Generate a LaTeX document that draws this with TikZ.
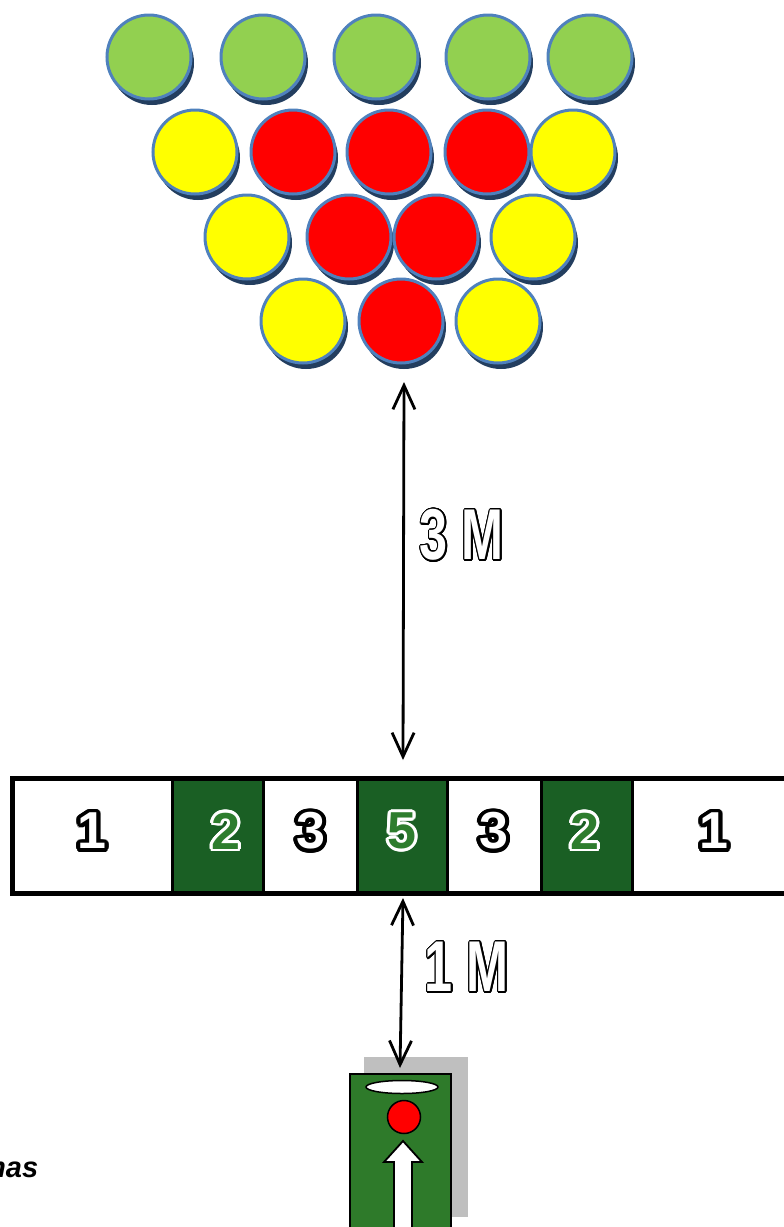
\documentclass[tikz,border=0pt]{standalone}
\usepackage{fontspec}
\setmainfont{Liberation Sans}
\usetikzlibrary{arrows.meta,shadows,shapes.geometric}
\definecolor{ballgreen}{HTML}{92D050}
\definecolor{ballyellow}{HTML}{FFFF00}
\definecolor{ballred}{HTML}{FF0000}
\definecolor{ballborder}{HTML}{4F81BD}
\definecolor{ballshadow}{HTML}{233E5F}
\definecolor{celldark}{HTML}{1A5F24}
\definecolor{digitgreen}{HTML}{2E7D2E}
\definecolor{boxgreen}{HTML}{2E7A2A}
\definecolor{boxgray}{HTML}{BFBFBF}
% outlined text: #1 outline colour, #2 fill colour, #3 outline radius (pt), #4 text
\newcommand\outltext[4]{%
  \makebox[0pt][l]{\foreach \ang in {0,15,...,345}{%
    \pgfmathsetlengthmacro\odx{#3*cos(\ang)}%
    \pgfmathsetlengthmacro\ody{#3*sin(\ang)}%
    \makebox[0pt][l]{\hspace*{\odx}\raisebox{\ody}{\textcolor{#1}{#4}}}}}%
  \textcolor{#2}{#4}}
\tikzset{
  ball/.style={circle, minimum size=84pt, inner sep=0pt, draw=ballborder, line width=3pt,
    drop shadow={shadow xshift=3pt, shadow yshift=-6pt, fill=ballshadow, opacity=1, draw=none}},
  gball/.style={ball, fill=ballgreen},
  yball/.style={ball, fill=ballyellow},
  rball/.style={ball, fill=ballred},
  cell/.style={rectangle, draw=black, line width=3pt, inner sep=0pt, minimum height=115pt},
  wcell/.style={cell, fill=white},
  dcell/.style={cell, fill=celldark},
  dimarrow/.style={line width=2.8pt, {Straight Barb[length=24pt,width=22pt]}-{Straight Barb[length=24pt,width=22pt]}},
  digit/.style={font=\fontsize{52}{52}\selectfont\bfseries, inner sep=0pt},
  meas/.style={font=\fontsize{72}{72}\selectfont\bfseries, inner sep=0pt}
}
\begin{document}
\begin{tikzpicture}[x=1pt,y=-1pt]
\useasboundingbox (0,0) rectangle (784,1227);
% row 1
\node[gball] (g1) at (149,57) {};
\node[gball] (g2) at (263,57) {};
\node[gball] (g3) at (376,57) {};
\node[gball] (g4) at (488,57) {};
\node[gball] (g5) at (590,57) {};
% row 2
\node[yball] (y21) at (195,152) {};
\node[rball] (r21) at (293,152) {};
\node[rball] (r22) at (389,152) {};
\node[rball] (r23) at (487,152) {};
\node[yball] (y22) at (573,152) {};
% row 3
\node[yball] (y31) at (247,237) {};
\node[rball] (r31) at (349,237) {};
\node[rball] (r32) at (436,237) {};
\node[yball] (y32) at (533,237) {};
% row 4
\node[yball] (y41) at (303,321) {};
\node[rball] (r41) at (401,321) {};
\node[yball] (y42) at (498,321) {};
% bar cells
\node[wcell, minimum width=160pt] (c1) at (92,835.5) {};
\node[dcell, minimum width=91pt] (c2) at (217.5,835.5) {};
\node[wcell, minimum width=94pt] (c3) at (310,835.5) {};
\node[dcell, minimum width=90pt] (c4) at (402,835.5) {};
\node[wcell, minimum width=94pt] (c5) at (494,835.5) {};
\node[dcell, minimum width=91pt] (c6) at (586.5,835.5) {};
\node[wcell, minimum width=160pt] (c7) at (712,835.5) {};
\node[rectangle, draw=black, line width=5pt, minimum width=780pt, minimum height=115pt, inner sep=0pt] (bar) at (402,835.5) {};
% digits
\node[digit] (d1) at (92,831) {\outltext{black}{white}{3.8}{1}};
\node[digit] (d2) at (226,831) {\outltext{white}{digitgreen}{2.7}{2}};
\node[digit] (d3) at (311,831) {\outltext{black}{white}{3.8}{3}};
\node[digit] (d4) at (402,831) {\outltext{white}{digitgreen}{2.7}{5}};
\node[digit] (d5) at (494,831) {\outltext{black}{white}{3.8}{3}};
\node[digit] (d6) at (585,831) {\outltext{white}{digitgreen}{2.7}{2}};
\node[digit] (d7) at (714,831) {\outltext{black}{white}{3.8}{1}};
% 3 M arrow
\coordinate (a1top) at (404,382);
\coordinate (a1bot) at (403,760);
\draw[dimarrow] (a1top) -- (a1bot);
\node[meas] (m3) at (462,535) {\scalebox{0.7}[1]{\outltext{black}{white}{1.6}{3 M}}};
% bottom box
\node[rectangle, fill=boxgray, minimum width=104pt, minimum height=160pt, inner sep=0pt] (graybox) at (416,1137) {};
\node[rectangle, fill=boxgreen, draw=black, line width=2pt, minimum width=101pt, minimum height=180pt, inner sep=0pt, anchor=north] (greenbox) at (400.5,1073) {};
\node[ellipse, fill=white, draw=black, line width=1.5pt, minimum width=72pt, minimum height=13pt, inner sep=0pt] (disc) at (402,1087) {};
\node[circle, fill=ballred, draw=black, line width=1.5pt, minimum size=33pt, inner sep=0pt] (redball) at (404,1117) {};
\draw[fill=white, draw=black, line width=1.8pt] (403,1141) -- (384,1162) -- (394,1162) -- (394,1240) -- (412,1240) -- (412,1162) -- (422,1162) -- cycle;
% 1 M arrow
\coordinate (a2top) at (403,898);
\coordinate (a2bot) at (400,1068);
\draw[dimarrow] (a2top) -- (a2bot);
\node[meas] (m1) at (467,967) {\scalebox{0.7}[1]{\outltext{black}{white}{1.6}{1 M}}};
% bottom-left text (cut by the page edge)
\node[anchor=base west, inner sep=0pt, font=\fontsize{29}{29}\selectfont\bfseries\itshape] (mas) at (-20,1177) {mas};
\end{tikzpicture}
\end{document}
